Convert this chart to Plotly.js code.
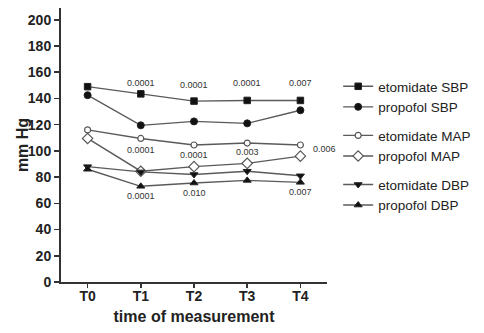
<!DOCTYPE html>
<html>
<head>
<meta charset="utf-8">
<script src="https://cdn.plot.ly/plotly-3.0.1.min.js"></script>
<style>html,body{margin:0;padding:0;background:#fff;}#chart{width:484px;height:333px;}</style>
</head>
<body>
<div id="chart"></div>
<script>
const timepoints = ["T0", "T1", "T2", "T3", "T4"];
const etomidateSBP = [149, 143.5, 138, 138.5, 138.5];
const propofolSBP = [142.5, 119.5, 122.5, 121, 131];
const etomidateMAP = [116, 109.5, 104.5, 106, 104.5];
const propofolMAP = [109.5, 84.5, 88, 90.5, 96];
const etomidateDBP = [88, 84, 82, 84.5, 81];
const propofolDBP = [86, 73, 75.5, 77.5, 76];
const yTicks = [0, 20, 40, 60, 80, 100, 120, 140, 160, 180, 200];

// p-value labels: [timepoint, text]
const pSBP = [["T1","0.0001"],["T2","0.0001"],["T3","0.0001"],["T4","0.007"]];
const pMAP = [["T1","0.0001"],["T2","0.0001"],["T3","0.003"],["T4","0.006"]];
const pDBP = [["T1","0.0001"],["T2","0.010"],["T4","0.007"]];

const lineColor = "#5a5a5a";
function tr(name, y, symbol, group) {
  return {
    x: timepoints, y: y, name: name, type: "scatter", mode: "lines+markers",
    legendgroup: group,
    line: {color: lineColor, width: 1.4},
    marker: {symbol: symbol, size: 7, color: "#111",
             line: {color: "#222", width: 1}}
  };
}
const openMarker = (t) => { t.marker.color = "#fff"; t.marker.line = {color: "#555", width: 1.2}; return t; };

const data = [
  tr("etomidate SBP", etomidateSBP, "square", "SBP"),
  tr("propofol SBP", propofolSBP, "circle", "SBP"),
  openMarker(tr("etomidate MAP", etomidateMAP, "circle", "MAP")),
  openMarker(tr("propofol MAP", propofolMAP, "diamond", "MAP")),
  tr("etomidate DBP", etomidateDBP, "triangle-down", "DBP"),
  tr("propofol DBP", propofolDBP, "triangle-up", "DBP"),
  // empty helper trace so the title-only axis (yaxis2) is drawn
  {x: [], y: [], type: "scatter", mode: "markers", yaxis: "y2", showlegend: false, hoverinfo: "skip"}
];
data[0].marker.size = 6.5;
data[2].marker.size = 6; data[3].marker.size = 8;

const annFont = {family: "Liberation Sans, Arial, sans-serif", size: 9, color: "#333"};
const annotations = [];
const sbpY = {T1: 151.5, T2: 150, T3: 151.5, T4: 151.5};
pSBP.forEach(([t, s]) => annotations.push({x: t, y: sbpY[t], text: s, showarrow: false, font: annFont}));
const mapY = {T1: 101, T2: 96.5, T3: 99, T4: 101.5};
pMAP.forEach(([t, s]) => annotations.push({x: t, y: mapY[t], text: s, showarrow: false, font: annFont,
  xshift: t === "T4" ? 24 : 0}));
const dbpY = {T1: 65.5, T2: 68, T4: 68.5};
pDBP.forEach(([t, s]) => annotations.push({x: t, y: dbpY[t], text: s, showarrow: false, font: annFont}));

const fam = "Liberation Sans, Arial, sans-serif";
const boldFont = {family: fam, size: 14, color: "#222", weight: "bold"};

const layout = {
  width: 484, height: 333,
  margin: {l: 61, r: 136, t: 8, b: 51},
  paper_bgcolor: "#fff", plot_bgcolor: "#fff",
  showlegend: true,
  legend: {
    x: 1.042, xanchor: "left", y: 0.77, yanchor: "top",
    traceorder: "grouped", tracegroupgap: 8,
    font: {family: fam, size: 13.5, color: "#222"},
    bgcolor: "rgba(0,0,0,0)"
  },
  xaxis: {
    type: "category", range: [-0.5, 4.5],
    showline: true, linecolor: "#333", linewidth: 2,
    ticks: "outside", ticklen: 4, tickcolor: "#333", tickwidth: 1.5,
    ticklabelstandoff: -4,
    showgrid: false, zeroline: false,
    tickfont: boldFont,
    title: {text: "time of measurement", font: {family: fam, size: 16, color: "#222", weight: "bold"}, standoff: 8}
  },
  yaxis: {
    range: [0, 209], tickvals: yTicks,
    showline: true, linecolor: "#333", linewidth: 2,
    ticks: "outside", ticklen: 5, tickcolor: "#333", tickwidth: 1.5,
    showgrid: false, zeroline: false,
    tickfont: boldFont
  },
  yaxis2: {
    overlaying: "y", side: "left", anchor: "free", position: 0,
    range: [0, 209], showline: false, showgrid: false, zeroline: false,
    ticks: "", showticklabels: false, automargin: false,
    title: {text: "mm Hg", font: {family: fam, size: 16, color: "#222", weight: "bold"}, standoff: 27}
  },
  annotations: annotations
};

Plotly.newPlot("chart", data, layout, {displayModeBar: false, staticPlot: true});
</script>
</body>
</html>
